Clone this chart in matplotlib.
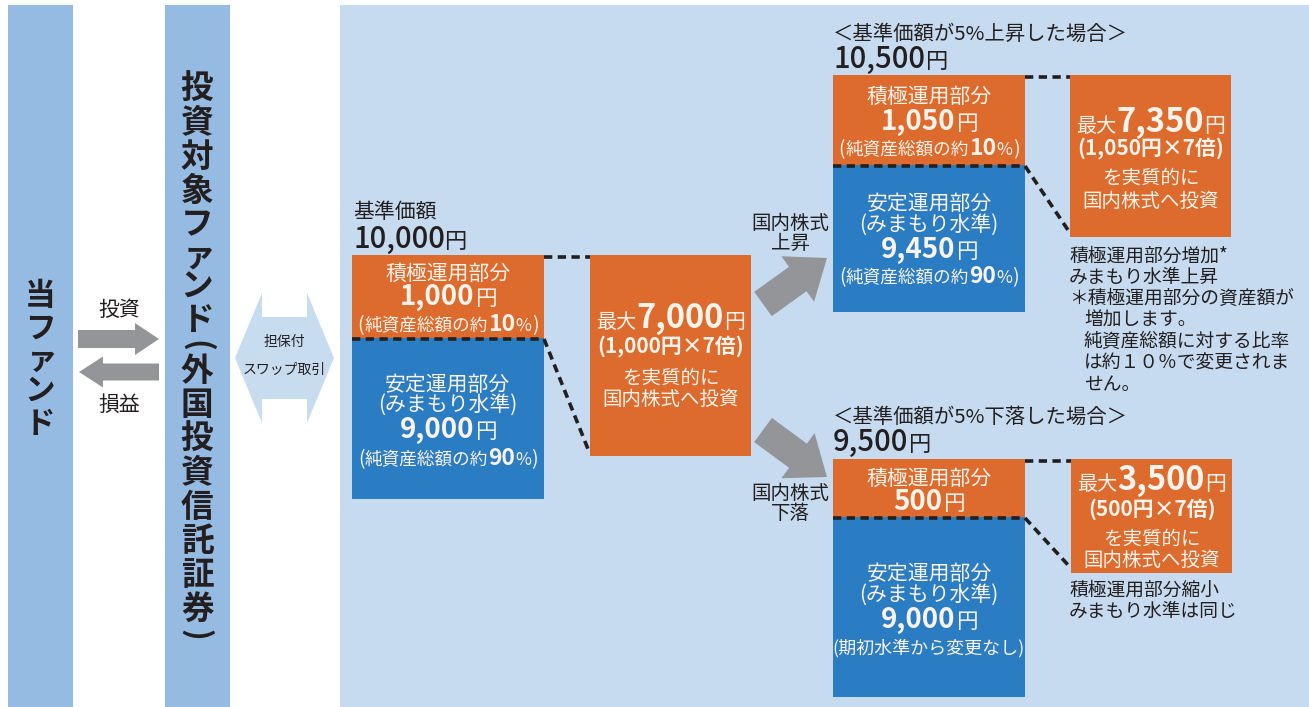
import matplotlib
matplotlib.use("Agg")
import matplotlib.pyplot as plt
from matplotlib.patches import Rectangle, Polygon, FancyArrow
from matplotlib.textpath import TextPath
from matplotlib.font_manager import FontProperties

plt.rcParams['font.family'] = ['Noto Sans CJK JP', 'DejaVu Sans']

# ---------------- data ----------------
fund_label = "当ファンド"
target_label = "投資対象ファンド(外国投資信託証券)"
flow_labels = ["投資", "損益"]
swap_label = ["担保付", "スワップ取引"]

scenario_titles = ["基準価額", "＜基準価額が5%上昇した場合＞", "＜基準価額が5%下落した場合＞"]
nav_values = ["10,000", "10,500", "9,500"]
active_values = ["1,000", "1,050", "500"]
active_shares = ["10", "10", None]
stable_values = ["9,000", "9,450", "9,000"]
stable_shares = ["90", "90", None]
stable_unchanged_note = "(期初水準から変更なし)"
max_values = ["7,000", "7,350", "3,500"]
leverage = "7"
market_moves = ["上昇", "下落"]
notes_up = ["積極運用部分増加*", "みまもり水準上昇", "＊積極運用部分の資産額が",
            "増加します。", "純資産総額に対する比率", "は約１０％で変更されま", "せん。"]
notes_down = ["積極運用部分縮小", "みまもり水準は同じ"]

# ---------------- style ----------------
DARK = '#231f20'
WHITE = '#fbf3ec'
ORANGE = '#dc6b2d'
BLUE = '#2a7cc3'
BAR = '#95bbe3'
PANEL = '#c6dbef'
GRAY = '#939598'

W, H = 1309, 707
fig = plt.figure(figsize=(W / 100, H / 100), dpi=100)
ax = fig.add_axes([0, 0, 1, 1])
ax.set_xlim(0, W)
ax.set_ylim(H, 0)
ax.axis('off')
renderer = fig.canvas.get_renderer()
PX = 100 / 72


def rich(x, yc, segs, ha='center', color=DARK, gap=0.5):
    texts = []
    for s, size, w in segs:
        t = ax.text(0, 0, s, fontsize=size, fontweight=w, color=color,
                    ha='left', va='baseline', zorder=5)
        texts.append(t)
    widths = [t.get_window_extent(renderer).width for t in texts]
    total = sum(widths) + gap * (len(widths) - 1)
    maxpx = max(sz for _, sz, _ in segs) * PX
    base = yc + 0.37 * maxpx
    x0 = x - total / 2 if ha == 'center' else x
    for t, w in zip(texts, widths):
        t.set_position((x0, base))
        x0 += w + gap


def rotated_paren(x, y, c, fs):
    # rotate clockwise and centre the glyph's ink on (x, y)
    fp = FontProperties(family='Noto Sans CJK JP', weight='bold')
    e = TextPath((0, 0), c, size=fs, prop=fp).get_extents()
    uc = (e.x0 + e.x1) / 2 * PX
    vc = (e.y0 + e.y1) / 2 * PX
    ax.text(x - vc, y - uc, c, fontsize=fs, fontweight='bold', rotation=-90,
            rotation_mode='anchor', color=DARK, ha='left', va='baseline', zorder=5)


def vtext(x, y0, chars, size, full_adv, paren_adv, small_adv):
    y = y0
    prev = None
    for c in chars:
        if prev is not None:
            if c in "()" or prev in "()":
                y += paren_adv
            elif c == "ァ" or prev == "ァ":
                y += small_adv
            else:
                y += full_adv
        if c in "()":
            rotated_paren(x, y, c, size * 0.95)
        else:
            dx = 2 if c == "ァ" else 0
            ax.text(x + dx, y, c, fontsize=size, fontweight='bold',
                    color=DARK, ha='center', va='center', zorder=5)
        prev = c


def rect(x0, y0, x1, y1, color, z=1):
    ax.add_patch(Rectangle((x0, y0), x1 - x0, y1 - y0, facecolor=color,
                           edgecolor='none', zorder=z))


def dash(xs, ys):
    ax.plot(xs, ys, color=DARK, lw=2.6, linestyle=(0, (2.3, 1.5)),
            dash_capstyle='butt', zorder=6)


# ---------------- background columns ----------------
rect(8, 5, 73, H, BAR)
rect(165, 5, 230, H, BAR)
rect(340, 5, W, H, PANEL)

vtext(40, 296, fund_label, 22, 33, 25, 31)
vtext(197, 89, target_label, 23.5, 34, 25, 31)

# flow arrows between fund columns
ax.add_patch(FancyArrow(78, 339, 81, 0, width=18, head_width=32, head_length=24,
                        length_includes_head=True, color=GRAY, lw=0, zorder=3))
ax.add_patch(FancyArrow(159, 372, -80, 0, width=17, head_width=31, head_length=24,
                        length_includes_head=True, color=GRAY, lw=0, zorder=3))
rich(119, 308, [(flow_labels[0], 15, 'normal')])
rich(119, 403, [(flow_labels[1], 15, 'normal')])

# double arrow (swap)
cx, cy, hl, hd, hh, sh = 284.5, 358, 49.5, 27, 65, 41
verts = [(cx - hl, cy), (cx - hl + hd, cy - hh), (cx - hl + hd, cy - sh),
         (cx + hl - hd, cy - sh), (cx + hl - hd, cy - hh), (cx + hl, cy),
         (cx + hl - hd, cy + hh), (cx + hl - hd, cy + sh), (cx - hl + hd, cy + sh),
         (cx - hl + hd, cy + hh)]
ax.add_patch(Polygon(verts, closed=True, facecolor='#c8dcf0', edgecolor='none', zorder=2))
rich(284, 341, [(swap_label[0], 10, 'normal')])
rich(284, 369, [(swap_label[1], 10, 'normal')])

# ---------------- scenario groups ----------------
groups = [
    dict(title=(353, 210), nav=(353, 237), orange=(352, 255, 544, 338), blue=(352, 338, 544, 499),
         right=(590, 255, 751, 456), o_y=[272, 295, 323], b_y=[383, 403, 428, 457],
         r_y=[316, 345, 377, 398]),
    dict(title=(833, 32), nav=(833, 57), orange=(833, 75, 1025, 165), blue=(833, 165, 1025, 312),
         right=(1070, 75, 1231, 237), o_y=[95, 120, 147], b_y=[202, 223, 248, 275],
         r_y=[120, 147, 177, 200]),
    dict(title=(833, 415), nav=(833, 440), orange=(833, 459, 1025, 517), blue=(833, 517, 1025, 697),
         right=(1071, 459, 1232, 573), o_y=[477, 500], b_y=[572, 593, 618, 647],
         r_y=[478, 508, 538, 559]),
]

for i, g in enumerate(groups):
    tx, ty = g['title']
    rich(tx, ty, [(scenario_titles[i], 15 if i == 0 else 14.7, 'normal')], ha='left')
    nx, ny = g['nav']
    rich(nx, ny, [(nav_values[i], 21, 'medium'), ("円", 16, 'normal')], ha='left')

    ox0, oy0, ox1, oy1 = g['orange']
    bx0, by0, bx1, by1 = g['blue']
    rx0, ry0, rx1, ry1 = g['right']
    rect(ox0, oy0, ox1, oy1, ORANGE)
    rect(bx0, by0, bx1, by1, BLUE)
    rect(rx0, ry0, rx1, ry1, ORANGE)

    ocx = (ox0 + ox1) / 2
    rich(ocx, g['o_y'][0], [("積極運用部分", 15, 'normal')], color=WHITE)
    rich(ocx, g['o_y'][1], [(active_values[i], 20, 'bold'), ("円", 15.5, 'normal')], color=WHITE)
    if active_shares[i] is not None:
        rich(ocx, g['o_y'][2], [("(", 14, 'normal'), ("純資産総額の約", 12.7, 'normal'),
                                (active_shares[i], 16.5, 'bold'), ("%", 12.5, 'normal'),
                                (")", 14, 'normal')], color=WHITE, gap=0.3)

    bcx = (bx0 + bx1) / 2
    rich(bcx, g['b_y'][0], [("安定運用部分", 15, 'normal')], color=WHITE)
    rich(bcx, g['b_y'][1], [("(みまもり水準)", 15, 'normal')], color=WHITE)
    rich(bcx, g['b_y'][2], [(stable_values[i], 20, 'bold'), ("円", 15.5, 'normal')], color=WHITE)
    if stable_shares[i] is not None:
        rich(bcx, g['b_y'][3], [("(", 14, 'normal'), ("純資産総額の約", 12.7, 'normal'),
                                (stable_shares[i], 16.5, 'bold'), ("%", 12.5, 'normal'),
                                (")", 14, 'normal')], color=WHITE, gap=0.3)
    else:
        rich(bcx, g['b_y'][3], [(stable_unchanged_note, 13, 'normal')], color=WHITE)

    rcx = (rx0 + rx1) / 2
    rich(rcx, g['r_y'][0], [("最大", 14.5, 'normal'), (max_values[i], 23.5, 'bold'),
                            ("円", 15, 'normal')], color=WHITE)
    rich(rcx, g['r_y'][1], [(f"({active_values[i]}円×{leverage}倍)", 15, 'bold')], color=WHITE)
    rich(rcx, g['r_y'][2], [("を実質的に", 14, 'normal')], color=WHITE)
    rich(rcx, g['r_y'][3], [("国内株式へ投資", 14, 'normal')], color=WHITE)

    # dashed connectors
    dash([ox1, rx0], [oy0 + 2, oy0 + 2])
    dash([ox0, ox1], [oy1 + 1, oy1 + 1])
    dash([ox1, rx0 - 2], [oy1 + 1, ry1 - 7])

# market move arrows
ax.add_patch(FancyArrow(763, 304, 64, -46, width=30, head_width=56, head_length=36,
                        length_includes_head=True, color=GRAY, lw=0, zorder=3))
ax.add_patch(FancyArrow(763, 430, 64, 47, width=30, head_width=56, head_length=36,
                        length_includes_head=True, color=GRAY, lw=0, zorder=3))
rich(790, 222, [("国内株式", 14, 'normal')])
rich(790, 242, [(market_moves[0], 14, 'normal')])
rich(790, 492, [("国内株式", 14, 'normal')])
rich(790, 512, [(market_moves[1], 14, 'normal')])

# notes
note_y_up = [255, 276, 297, 319, 340, 362, 383]
for j, line in enumerate(notes_up):
    x = 1069 if j < 3 else 1084
    rich(x, note_y_up[j], [(line, 13.5, 'normal')], ha='left')
note_y_down = [589, 610]
for j, line in enumerate(notes_down):
    rich(1069, note_y_down[j], [(line, 13.5, 'normal')], ha='left')

fig.savefig("out.png", dpi=100)
